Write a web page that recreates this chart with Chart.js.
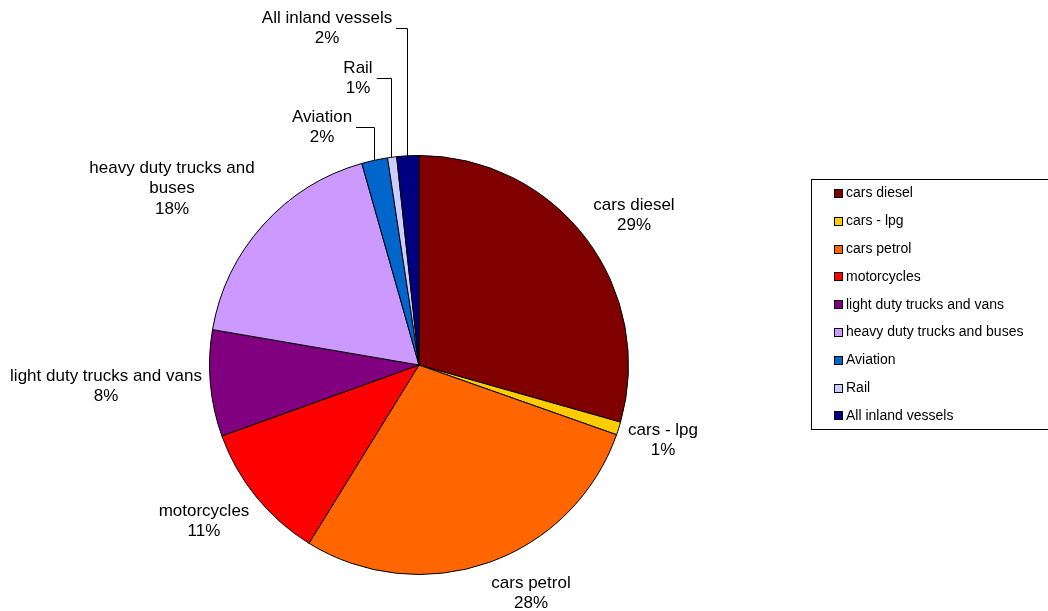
<!DOCTYPE html>
<html>
<head>
<meta charset="utf-8">
<script src="https://cdn.jsdelivr.net/npm/chart.js@4.4.0/dist/chart.umd.min.js"></script>
<style>
  body { margin: 0; background: #fff; }
</style>
</head>
<body>
<canvas id="shareChart" width="1048" height="611"></canvas>
<script>
const categories = ['cars diesel', 'cars - lpg', 'cars petrol', 'motorcycles', 'light duty trucks and vans',
    'heavy duty trucks and buses', 'Aviation', 'Rail', 'All inland vessels'];
const shares = [29.4, 1.0, 28.4, 10.7, 8.2, 17.9, 2.0, 0.7, 1.7];
const colors = ['#800000', '#FFCC00', '#FF6600', '#FF0000', '#800080', '#CC99FF', '#0066CC', '#CCCCFF', '#000080'];

// label text lines (name wrapped as in the original) and their offsets from the pie centre
const labelNames = [['cars diesel'], ['cars - lpg'], ['cars petrol'], ['motorcycles'], ['light duty trucks and vans'],
    ['heavy duty trucks and', 'buses'], ['Aviation'], ['Rail'], ['All inland vessels']];
const labelOffsets = [[215, -160], [244, 65], [112, 218], [-215, 146], [-313, 11], [-247, -197], [-97, -248], [-61, -297], [-92, -347]];
const leaderLines = [false, false, false, false, false, false, true, true, true];

const FONT = '"Liberation Sans", Arial, sans-serif';

const labelPlugin = {
    id: 'sliceLabels',
    afterDraw(chart) {
        const ctx = chart.ctx;
        const meta = chart.getDatasetMeta(0);
        ctx.save();
        ctx.fillStyle = '#000';
        ctx.strokeStyle = '#000';
        ctx.lineWidth = 1;
        ctx.font = '17px ' + FONT;
        ctx.textAlign = 'center';
        ctx.textBaseline = 'middle';
        meta.data.forEach((arc, i) => {
            const p = arc.getProps(['x', 'y', 'startAngle', 'endAngle', 'outerRadius'], true);
            const lines = labelNames[i].concat([Math.round(shares[i]) + '%']);
            const cx = p.x + labelOffsets[i][0];
            const cy = p.y + labelOffsets[i][1];
            lines.forEach((t, k) => ctx.fillText(t, cx, cy + k * 20.5));
            if (leaderLines[i]) {
                const mid = (p.startAngle + p.endAngle) / 2;
                const ax = Math.round(p.x + Math.cos(mid) * p.outerRadius) - 0.5;
                const ay = p.y + Math.sin(mid) * p.outerRadius;
                const w = ctx.measureText(labelNames[i][0]).width;
                const ly = Math.round(cy + 10) + 0.5;
                ctx.beginPath();
                ctx.moveTo(ax, ay);
                ctx.lineTo(ax, ly);
                ctx.lineTo(cx + w / 2 + 4, ly);
                ctx.stroke();
            }
        });

        // legend box on the right
        ctx.strokeStyle = '#000';
        ctx.strokeRect(811.5, 179.5, 260, 250);
        ctx.font = '14px ' + FONT;
        ctx.textAlign = 'left';
        categories.forEach((name, i) => {
            const y = 193.5 + i * 27.8;
            ctx.fillStyle = colors[i];
            ctx.fillRect(834, Math.round(y - 4.5), 9, 9);
            ctx.strokeStyle = '#000';
            ctx.strokeRect(834.5, Math.round(y - 4.5) + 0.5, 8, 8);
            ctx.fillStyle = '#000';
            ctx.fillText(name, 846, y);
        });
        ctx.restore();
    }
};

const ctx = document.getElementById('shareChart').getContext('2d');
const shareChart = new Chart(ctx, {
    type: 'pie',
    data: {
        labels: categories,
        datasets: [{
            data: shares,
            backgroundColor: colors,
            borderColor: '#000',
            borderWidth: 1
        }]
    },
    options: {
        responsive: false,
        animation: false,
        layout: {
            padding: { left: 209, right: 419, top: 155, bottom: 36 }
        },
        plugins: {
            legend: { display: false },
            tooltip: { enabled: false }
        }
    },
    plugins: [labelPlugin]
});
</script>
</body>
</html>
